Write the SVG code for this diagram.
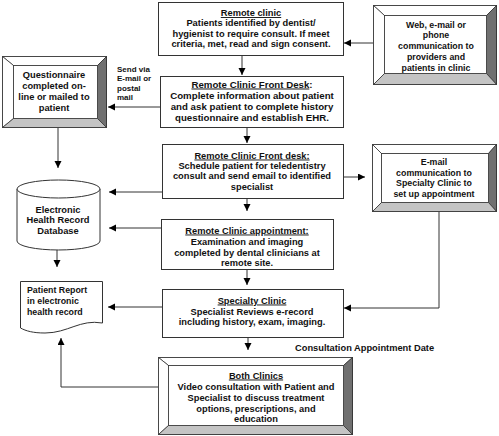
<svg xmlns="http://www.w3.org/2000/svg" width="499" height="436" viewBox="0 0 499 436">
<style>
text{font-family:"Liberation Sans",Arial,sans-serif;font-weight:bold;font-size:9.3px;fill:#111;text-anchor:middle}
.u{text-decoration:underline}
.l{text-anchor:start}
.sm{font-size:8px}
.md{font-size:8.8px}
.lg{font-size:9.7px}
.box{fill:#fff;stroke:#333;stroke-width:1}
.face{fill:#fff;stroke:#333;stroke-width:0.8}
.bv{stroke:#333;stroke-width:0.8}
.w{fill:#fff}.dk{fill:#707070}.lt{fill:#c4c4c4}
.c{fill:none;stroke:#333;stroke-width:1}
</style>
<defs>
<marker id="ah" markerWidth="8" markerHeight="8" refX="7" refY="3.5" orient="auto" markerUnits="userSpaceOnUse">
<path d="M0,0 L7,3.5 L0,7 Z" fill="#000"/>
</marker>
</defs>

<g id="connectors">
<path class="c" d="M242,56 V75" marker-end="url(#ah)"/>
<path class="c" d="M373,43 H344" marker-end="url(#ah)"/>
<path class="c" d="M247,127 V143" marker-end="url(#ah)"/>
<path class="c" d="M160,107 H108" marker-end="url(#ah)"/>
<path class="c" d="M58,127 V168" marker-end="url(#ah)"/>
<path class="c" d="M162,192 H109" marker-end="url(#ah)"/>
<path class="c" d="M343,177 H365" marker-end="url(#ah)"/>
<path class="c" d="M247,199 V211" marker-end="url(#ah)"/>
<path class="c" d="M161,228 H109" marker-end="url(#ah)"/>
<path class="c" d="M57,250 V267" marker-end="url(#ah)"/>
<path class="c" d="M247,270 V285" marker-end="url(#ah)"/>
<path class="c" d="M439,211 V308 H344" marker-end="url(#ah)"/>
<path class="c" d="M162,307 H108" marker-end="url(#ah)"/>
<path class="c" d="M248,337 V350" marker-end="url(#ah)"/>
<path class="c" d="M158,387 H61 V338" marker-end="url(#ah)"/>
</g>

<g id="remote-clinic">
<rect class="box" x="158.5" y="2.5" width="185" height="53"/>
<text x="251" y="16" class="u">Remote clinic</text>
<text x="251" y="26">Patients identified by dentist/</text>
<text x="251" y="36.5">hygienist to require consult. If meet</text>
<text x="251" y="47">criteria, met, read and sign consent.</text>
</g>

<g id="web-communication">
<rect class="box" x="373.5" y="5.5" width="123" height="79"/>
<polygon class="bv w" points="373.5,5.5 496.5,5.5 486.5,15.5 384.5,15.5"/>
<polygon class="bv w" points="373.5,5.5 384.5,15.5 384.5,73.5 373.5,84.5"/>
<polygon class="bv dk" points="496.5,5.5 496.5,84.5 486.5,73.5 486.5,15.5"/>
<polygon class="bv lt" points="373.5,84.5 496.5,84.5 486.5,73.5 384.5,73.5"/>
<rect class="face" x="384.5" y="15.5" width="102" height="58"/>
<text x="436" y="27.5" class="md">Web, e-mail or</text>
<text x="436" y="38" class="md">phone</text>
<text x="436" y="49" class="md">communication to</text>
<text x="436" y="60" class="md">providers and</text>
<text x="436" y="70.5" class="md">patients in clinic</text>
</g>

<g id="front-desk-1">
<rect class="box" x="160.5" y="76.5" width="183" height="51"/>
<text x="252" y="87.5" class="lg"><tspan class="u">Remote Clinic Front Desk</tspan>:</text>
<text x="252" y="98.5" class="lg">Complete information about patient</text>
<text x="252" y="109.5" class="lg">and ask patient to complete history</text>
<text x="252" y="120.5" class="lg">questionnaire and establish EHR.</text>
</g>

<g id="questionnaire">
<rect class="box" x="2.5" y="56.5" width="104" height="71"/>
<polygon class="bv w" points="2.5,56.5 106.5,56.5 97.5,65.5 13.5,65.5"/>
<polygon class="bv w" points="2.5,56.5 13.5,65.5 13.5,118.5 2.5,127.5"/>
<polygon class="bv dk" points="106.5,56.5 106.5,127.5 97.5,118.5 97.5,65.5"/>
<polygon class="bv lt" points="2.5,127.5 106.5,127.5 97.5,118.5 13.5,118.5"/>
<rect class="face" x="13.5" y="65.5" width="84" height="53"/>
<text x="54" y="78">Questionnaire</text>
<text x="54" y="88.5">completed on-</text>
<text x="54" y="99.5">line or mailed to</text>
<text x="54" y="110.5">patient</text>
</g>

<g id="send-label">
<text x="117" y="72" class="l sm">Send via</text>
<text x="117" y="81" class="l sm">E-mail or</text>
<text x="117" y="91" class="l sm">postal</text>
<text x="117" y="100" class="l sm">mail</text>
</g>

<g id="front-desk-2">
<rect class="box" x="162.5" y="144.5" width="181" height="54"/>
<text x="252" y="158.5" class="u">Remote Clinic Front desk:</text>
<text x="252" y="168.5">Schedule patient for teledentistry</text>
<text x="252" y="179">consult and send email to identified</text>
<text x="252" y="189.5">specialist</text>
</g>

<g id="email-communication">
<rect class="box" x="372.5" y="144.5" width="124" height="67"/>
<polygon class="bv w" points="372.5,144.5 496.5,144.5 488.5,153.5 381.5,153.5"/>
<polygon class="bv w" points="372.5,144.5 381.5,153.5 381.5,202.5 372.5,211.5"/>
<polygon class="bv dk" points="496.5,144.5 496.5,211.5 488.5,202.5 488.5,153.5"/>
<polygon class="bv lt" points="372.5,211.5 496.5,211.5 488.5,202.5 381.5,202.5"/>
<rect class="face" x="381.5" y="153.5" width="107" height="49"/>
<text x="434" y="164.5" class="md">E-mail</text>
<text x="434" y="175.5" class="md">communication to</text>
<text x="434" y="186" class="md">Specialty Clinic to</text>
<text x="434" y="196.5" class="md">set up appointment</text>
</g>

<g id="ehr-database">
<path d="M17,189 V241 A41.5,9 0 0 0 100,241 V189" fill="#fff" stroke="#333" stroke-width="1"/>
<ellipse cx="58.5" cy="189" rx="41.5" ry="9" fill="#fff" stroke="#333" stroke-width="1"/>
<text x="58" y="212.5">Electronic</text>
<text x="58" y="223">Health Record</text>
<text x="58" y="234">Database</text>
</g>

<g id="remote-appointment">
<rect class="box" x="161.5" y="219.5" width="172" height="50"/>
<text x="247" y="233.5" class="u">Remote Clinic appointment:</text>
<text x="247" y="244.5">Examination and imaging</text>
<text x="247" y="255.5">completed by dental clinicians at</text>
<text x="247" y="266">remote site.</text>
</g>

<g id="patient-report">
<path d="M20.5,281.5 H102.5 V323 C80,319 68,333 45,333 C33,333 26,331 20.5,328 Z" fill="#fff" stroke="#333" stroke-width="1"/>
<text x="27" y="293" class="l md">Patient Report</text>
<text x="27" y="304" class="l md">in electronic</text>
<text x="27" y="315" class="l md">health record</text>
</g>

<g id="specialty-clinic">
<rect class="box" x="162.5" y="289.5" width="181" height="48"/>
<text x="252" y="303.5" class="u">Specialty Clinic</text>
<text x="252" y="314.5">Specialist Reviews  e-record</text>
<text x="252" y="324.5">including history, exam, imaging.</text>
</g>

<g id="consult-date">
<text x="295" y="350.5" class="l">Consultation Appointment Date</text>
</g>

<g id="both-clinics">
<rect class="box" x="158.5" y="357.5" width="194" height="77"/>
<polygon class="bv w" points="158.5,357.5 352.5,357.5 343.5,365.5 168.5,365.5"/>
<polygon class="bv w" points="158.5,357.5 168.5,365.5 168.5,425.5 158.5,434.5"/>
<polygon class="bv dk" points="352.5,357.5 352.5,434.5 343.5,425.5 343.5,365.5"/>
<polygon class="bv lt" points="158.5,434.5 352.5,434.5 343.5,425.5 168.5,425.5"/>
<rect class="face" x="168.5" y="365.5" width="175" height="60"/>
<text x="256" y="378.5" class="u">Both Clinics</text>
<text x="256" y="389.5">Video consultation with Patient and</text>
<text x="256" y="400.5">Specialist to discuss treatment</text>
<text x="256" y="411.5">options, prescriptions, and</text>
<text x="256" y="421.5">education</text>
</g>
</svg>
